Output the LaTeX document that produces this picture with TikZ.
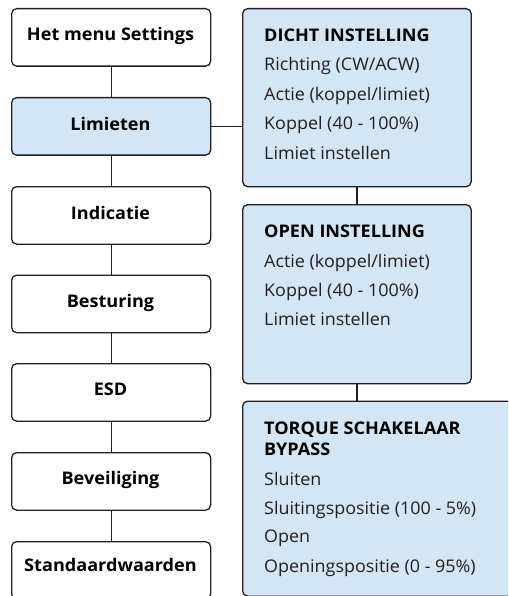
\documentclass[tikz,border=0pt]{standalone}
\usepackage{fontspec}
\setmainfont{Open Sans}
\newfontfamily\regfont{Open Sans}[FakeStretch=1.03]
\newfontfamily\boldfont{Open Sans}[FakeStretch=1.04]
\definecolor{boxblue}{RGB}{210,230,246}
\definecolor{linegray}{RGB}{35,31,32}
\tikzset{
  box/.style={draw=linegray, line width=1.3pt, rounded corners=5pt, inner sep=0pt},
  lbox/.style={box, fill=white, minimum width=199pt, minimum height=57.5pt, anchor=north west},
  lboxhi/.style={lbox, fill=boxblue},
  rbox/.style={box, fill=boxblue, anchor=north west},
  ltext/.style={font=\boldfont\fontsize{17.4}{20}\selectfont\bfseries, anchor=base, inner sep=0pt},
  rhead/.style={font=\boldfont\fontsize{17.4}{20}\selectfont\bfseries, anchor=base west, inner sep=0pt},
  rline/.style={font=\regfont\fontsize{17.4}{20}\selectfont, anchor=base west, inner sep=0pt, text=linegray},
  conn/.style={draw=linegray, line width=1.3pt}
}
\begin{document}
\begin{tikzpicture}[x=1pt,y=-1pt]
\useasboundingbox (0,0) rectangle (508,596);
\clip (0,0) rectangle (508,596);
% left column
\node[lbox] (b0) at (11,8) {};
\node[lboxhi] (b1) at (11,97) {};
\node[lbox] (b2) at (11,186) {};
\node[lbox] (b3) at (11,274.5) {};
\node[lbox] (b4) at (11,363) {};
\node[lbox] (b5) at (11,452) {};
\node[lbox] (b6) at (11,541) {};
\draw[conn] (b0.south) -- (b1.north);
\draw[conn] (b1.south) -- (b2.north);
\draw[conn] (b2.south) -- (b3.north);
\draw[conn] (b3.south) -- (b4.north);
\draw[conn] (b4.south) -- (b5.north);
\draw[conn] (b5.south) -- (b6.north);
\node[ltext] (t0) at (110.5,40.7) {Het menu Settings};
\node[ltext] (t1) at (110.5,131) {Limieten};
\node[ltext] (t2) at (110.5,219.5) {Indicatie};
\node[ltext] (t3) at (110.5,307.5) {Besturing};
\node[ltext] (t4) at (110.5,395.5) {ESD};
\node[ltext] (t5) at (110.5,484.5) {Beveiliging};
\node[ltext] (t6) at (110.5,571.5) {Standaardwaarden};
% right column
\node[rbox, minimum width=228.5pt, minimum height=178pt] (r1) at (242,8) {};
\node[rbox, minimum width=228.5pt, minimum height=179pt] (r2) at (242,204) {};
\node[rbox, minimum width=290pt, minimum height=195pt] (r3) at (242,400.5) {};
\draw[conn] (b1.east) -- (r1.west |- b1.east);
\draw[conn] (r1.south -| 357,0) -- (r2.north -| 357,0);
\draw[conn] (r2.south -| 357,0) -- (r3.north -| 357,0);
% texts box 1
\node[rhead] (h1) at (264,41.7) {DICHT INSTELLING};
\node[rline] (l11) at (264,70.7) {Richting (CW/ACW)};
\node[rline] (l12) at (264,100.3) {Actie (koppel/limiet)};
\node[rline] (l13) at (264,129.8) {Koppel (40 - 100\%)};
\node[rline] (l14) at (264,159.2) {Limiet instellen};
% texts box 2
\node[rhead] (h2) at (264,237.7) {OPEN INSTELLING};
\node[rline] (l21) at (264,267.3) {Actie (koppel/limiet)};
\node[rline] (l22) at (264,296.7) {Koppel (40 - 100\%)};
\node[rline] (l23) at (264,325.5) {Limiet instellen};
% texts box 3
\node[rhead] (h3) at (264,434) {TORQUE SCHAKELAAR};
\node[rhead] (h3b) at (264,455.7) {BYPASS};
\node[rline] (l31) at (264,485) {Sluiten};
\node[rline] (l32) at (264,514) {Sluitingspositie (100 - 5\%)};
\node[rline] (l33) at (264,542.7) {Open};
\node[rline] (l34) at (264,572.7) {Openingspositie (0 - 95\%)};
\end{tikzpicture}
\end{document}
